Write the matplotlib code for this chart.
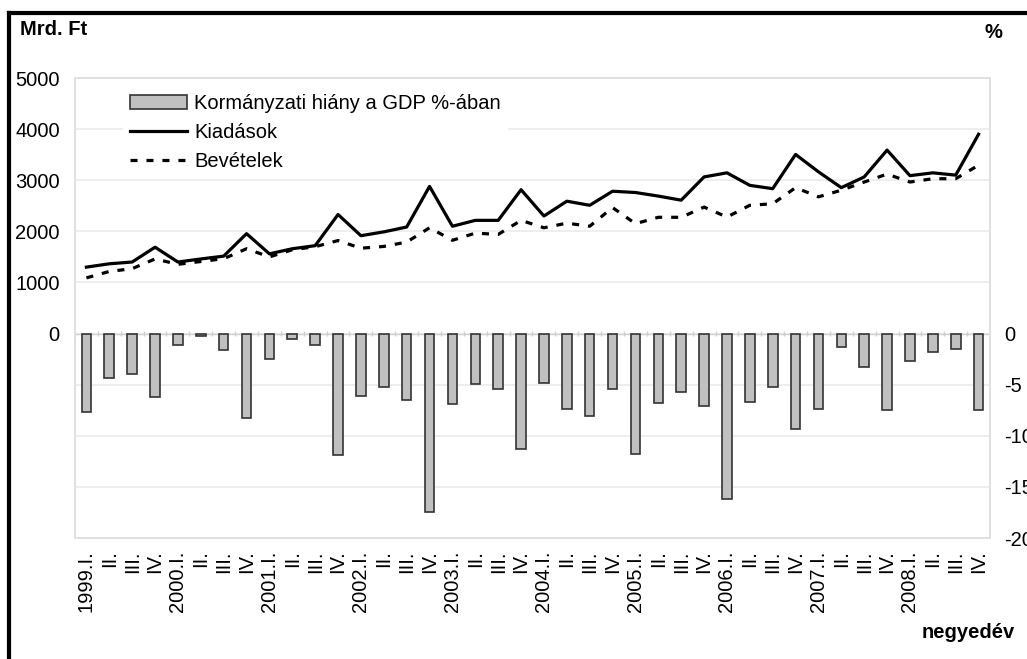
import matplotlib
matplotlib.use('Agg')
import matplotlib.pyplot as plt
import numpy as np
from matplotlib.lines import Line2D

plt.rcParams['font.family'] = ['Liberation Sans', 'DejaVu Sans']

# Data (quarterly, 1999 Q1 - 2008 Q4)
quarters = []
for yr in range(1999, 2009):
    quarters += [str(yr) + '.I.', 'II.', 'III.', 'IV.']

deficit = [-7.7, -4.3, -4.0, -6.2, -1.1, -0.2, -1.6, -8.3, -2.5, -0.5, -1.1, -11.9,
           -6.1, -5.2, -6.5, -17.5, -6.9, -4.9, -5.4, -11.3, -4.8, -7.4, -8.1, -5.4,
           -11.8, -6.8, -5.7, -7.1, -16.2, -6.7, -5.2, -9.3, -7.4, -1.3, -3.3, -7.5,
           -2.7, -1.8, -1.5, -7.5]

kiadasok = [1300, 1365, 1400, 1690, 1400, 1460, 1515, 1955, 1560, 1660, 1720, 2330,
            1915, 1990, 2085, 2880, 2100, 2215, 2215, 2815, 2300, 2590, 2510, 2785,
            2760, 2690, 2610, 3065, 3145, 2900, 2835, 3505, 3165, 2855, 3065, 3590,
            3090, 3145, 3100, 3900]

bevetelek = [1090, 1215, 1270, 1460, 1355, 1410, 1465, 1660, 1500, 1640, 1700, 1820,
             1670, 1705, 1790, 2070, 1825, 1965, 1940, 2215, 2070, 2160, 2100, 2465,
             2150, 2275, 2275, 2475, 2280, 2510, 2540, 2855, 2675, 2805, 2965, 3120,
             2965, 3030, 3030, 3295]

left_ticks = [0, 1000, 2000, 3000, 4000, 5000]
right_ticks = [0, -5, -10, -15, -20]

x = np.arange(len(quarters))
fs = 14.5

fig = plt.figure(figsize=(10.27, 6.59), dpi=100)
ax = fig.add_axes([0.073, 0.1836, 0.891, 0.698])
ax2 = ax.twinx()

# left axis in Mrd. Ft, right axis in %
ax.set_ylim(-4000, 5000)
ax2.set_ylim(-20, 25)
ax.set_xlim(-0.5, len(quarters) - 0.5)

ax.set_zorder(ax2.get_zorder() + 1)
ax.patch.set_visible(False)

for g in range(-4000, 5001, 1000):
    ax2.axhline(g / 200.0, color='#ebebeb', lw=1.2, zorder=0)

b = ax2.bar(x, deficit, width=0.42, color='#c0c0c0', edgecolor='#333333', lw=1.2, zorder=2)
ax2.axhline(0, color='#d0d0d0', lw=1, zorder=1)
ax2.vlines(np.arange(len(quarters) + 1) - 0.5, -0.25, 0.25, color='#d0d0d0', lw=1, zorder=1)

l1, = ax.plot(x, kiadasok, color='black', lw=2.3, zorder=3)
l2, = ax.plot(x, bevetelek, color='black', lw=2.3, ls=(0, (2.2, 2.8)), zorder=3)

ax.set_yticks(left_ticks)
ax.set_yticklabels([str(t) for t in left_ticks], fontsize=fs)
ax2.set_yticks(right_ticks)
ax2.set_yticklabels([str(t) for t in right_ticks], fontsize=fs)
ax.tick_params(axis='y', length=0, pad=11)
ax2.tick_params(axis='y', length=0, pad=10)

ax.set_xticks(x)
ax.set_xticklabels(quarters, rotation=90, fontsize=fs)
ax.tick_params(axis='x', length=0, pad=9)

for a in (ax, ax2):
    for s in a.spines.values():
        s.set_color('#e0e0e0')
        s.set_linewidth(1.2)

leg = ax.legend([b, l1, l2], ['Kormányzati hiány a GDP %-ában', 'Kiadások', 'Bevételek'],
                loc='upper left', bbox_to_anchor=(0.042, 1.0), frameon=True,
                fancybox=False, edgecolor='white', facecolor='white', framealpha=1,
                fontsize=fs, handlelength=2.85, handletextpad=0.35, labelspacing=0.5,
                borderpad=0.3)

fig.text(0.019, 0.955, 'Mrd. Ft', fontsize=fs, fontweight='bold', ha='left', va='center')
fig.text(0.959, 0.951, '%', fontsize=fs, fontweight='bold', ha='left', va='center')
fig.text(0.988, 0.04, 'negyedév', fontsize=fs, fontweight='bold', ha='right', va='center')

# outer frame (left and top)
fig.add_artist(Line2D([0.0085, 0.0085], [0.0, 0.981], color='black', lw=3))
fig.add_artist(Line2D([0.0085, 1.0], [0.981, 0.981], color='black', lw=3))

fig.savefig('out.png', dpi=100)
